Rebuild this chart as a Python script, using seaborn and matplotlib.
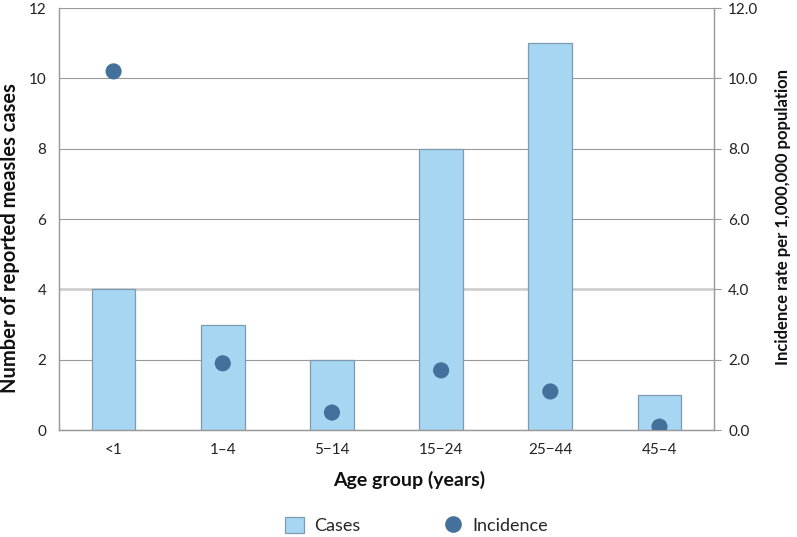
import numpy as np
import pandas as pd
import matplotlib
matplotlib.use("Agg")
import matplotlib.pyplot as plt
import seaborn as sns
from matplotlib.lines import Line2D
from matplotlib.patches import Patch
from matplotlib.ticker import FixedLocator

# data
age_groups = ["<1", "1\u20134", "5\u221214", "15\u221224", "25\u221244", "45\u20134"]
cases = [4, 3, 2, 8, 11, 1]
incidence = [10.2, 1.9, 0.5, 1.7, 1.1, 0.1]

bar_color = "#A7D6F3"
bar_edge = "#7E9AB0"
dot_color = "#44719B"
axis_gray = "#9A9A9A"

sns.set_style("white")
plt.rcParams["font.family"] = ["Lato", "DejaVu Sans"]

df = pd.DataFrame({"age": age_groups, "cases": cases, "incidence": incidence})

fig = plt.figure(figsize=(7.97, 5.37), dpi=100)
ax = fig.add_axes([0.074, 0.199, 0.822, 0.786])

sns.barplot(data=df, x="age", y="cases", color=bar_color, edgecolor=bar_edge,
            linewidth=0.9, width=0.4, saturation=1, ax=ax, zorder=3)
ax.set_ylim(0, 12)
ax.set_xlim(-0.5, 5.5)
ax.set_yticks(range(0, 13, 2))
ax.yaxis.grid(True, color=axis_gray, linewidth=0.8, zorder=0)
ax.set_axisbelow(True)
# the 4 line is drawn lighter and thicker in the original
hl = ax.get_ygridlines()[2]
hl.set_color("#CFCFCF")
hl.set_linewidth(2)

ax2 = ax.twinx()
sns.scatterplot(data=df, x="age", y="incidence", color=dot_color, s=135,
                edgecolor="none", ax=ax2, zorder=4)
ax2.set_ylim(0, 12)
ax2.set_yticks(np.arange(0, 12.1, 2))
ax2.set_yticklabels([f"{v:.1f}" for v in np.arange(0, 12.1, 2)])
ax2.set_ylabel("Incidence rate per 1,000,000 population", fontsize=12,
               fontweight="bold", labelpad=12, color="#111111")
ax2.yaxis.label.set_y(0.505)

for a in (ax, ax2):
    a.spines["top"].set_visible(False)
    for s in ("left", "right", "bottom"):
        a.spines[s].set_color(axis_gray)
        a.spines[s].set_linewidth(0.9)

ax.tick_params(axis="y", length=0, labelsize=11, pad=9, colors="#222222")
ax2.tick_params(axis="y", length=5, width=0.8, color=axis_gray, labelsize=11,
                pad=5, labelcolor="#222222")
ax.tick_params(axis="x", which="major", length=0, labelsize=11, pad=9,
               labelcolor="#222222")
ax.xaxis.set_minor_locator(FixedLocator(np.arange(-0.5, 6, 1)))
ax.tick_params(axis="x", which="minor", length=5, width=0.8, color=axis_gray)

ax.set_xlabel("Age group (years)", fontsize=14, fontweight="bold",
              labelpad=10, color="#111111")
ax.xaxis.label.set_x(0.534)
ax.set_ylabel("Number of reported measles cases", fontsize=14.5,
              fontweight="bold", labelpad=6, color="#111111")
ax.yaxis.label.set_y(0.455)

handles = [
    Patch(facecolor=bar_color, edgecolor=bar_edge, linewidth=0.9, label="Cases"),
    Line2D([0], [0], marker="o", linestyle="none", markersize=12,
           markerfacecolor=dot_color, markeredgecolor="none", label="Incidence"),
]
fig.legend(handles=handles, loc="center", bbox_to_anchor=(0.523, 0.022),
           ncol=2, frameon=False, fontsize=13, columnspacing=4.6,
           handlelength=1.0, handleheight=1.0, handletextpad=0.6)

fig.savefig("out.png", dpi=100)
